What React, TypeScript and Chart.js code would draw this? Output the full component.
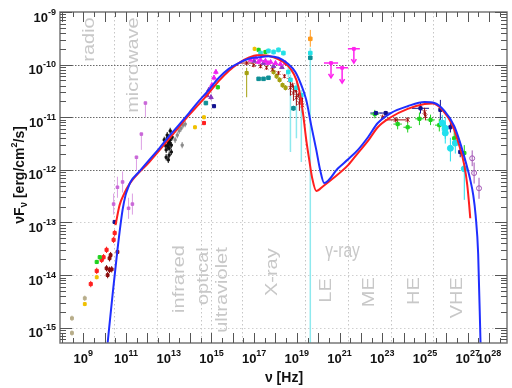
import React, { useEffect, useRef } from "react";
import { Chart, registerables } from "chart.js";
Chart.register(...registerables);

// ---------- axis ranges (log10) ----------
const X_MIN_LOG = 7.91;
const X_MAX_LOG = 28.84;
const Y_MIN_LOG = -15.29;
const Y_MAX_LOG = -9;

const xTickLabels = [9, 11, 13, 15, 17, 19, 21, 23, 25, 27, 28];
const yTickLabels = [-9, -10, -11, -12, -13, -14, -15];
const bandEdgesLog = [10.45, 12.47, 14.49, 14.98, 16.42, 19.39, 21.39, 23.39, 25.39];

const bandNames = ["radio", "microwave", "infrared", "optical", "ultraviolet", "X-ray", "LE", "ME", "HE", "VHE"];
const bandNu = [9.3, 11.35, 13.53, 14.65, 15.53, 17.86, 20.37, 22.42, 24.51, 26.51];
const bandTopF = [-9.1, -9.1, -13.43, -13.47, -13.47, -13.49, -14.06, -14.04, -14.04, -14.04];

// ---------- model curves (log10 nu, log10 nuFnu) ----------
const blueNu = [10.14, 10.37, 10.6, 10.84, 10.98, 11.07, 11.21, 11.63, 12.09, 12.56, 13.02, 13.49, 13.95, 14.42, 14.88, 15.35, 15.81, 16.28, 16.74, 17.21, 17.67, 18.14, 18.6, 18.93, 19.21, 19.44, 19.67, 19.91, 20.09, 20.28, 20.93, 21.4, 21.86, 22.33, 22.79, 23.4, 24.19, 24.98, 25.44, 25.91, 26.37, 26.65, 26.88, 27.12, 27.26, 27.37, 27.49, 27.6];
const blueF = [-15.29, -14.38, -13.52, -12.76, -12.48, -12.37, -12.23, -12.03, -11.81, -11.59, -11.36, -11.14, -10.92, -10.69, -10.48, -10.25, -10.08, -9.97, -9.89, -9.86, -9.84, -9.87, -9.99, -10.14, -10.39, -10.67, -11.15, -11.62, -12.0, -12.25, -11.97, -11.8, -11.62, -11.38, -11.11, -10.92, -10.79, -10.71, -10.73, -10.88, -11.17, -11.49, -11.81, -12.19, -12.48, -12.86, -13.6, -15.29];

const redNu = [10.51, 10.7, 10.93, 11.16, 12.09, 13.02, 13.95, 14.42, 14.88, 15.35, 15.81, 16.28, 16.74, 17.12, 17.44, 17.91, 18.37, 18.74, 18.98, 19.16, 19.3, 19.44, 19.58, 19.72, 19.91, 20.23, 20.7, 21.4, 21.86, 22.33, 22.79, 23.4, 24.19, 24.98, 25.35, 25.81, 26.28, 26.6, 26.84, 26.98, 27.07, 27.12];
const redF = [-13.05, -12.67, -12.44, -12.27, -11.85, -11.41, -10.96, -10.75, -10.54, -10.31, -10.12, -9.97, -9.87, -9.82, -9.82, -9.86, -9.95, -10.1, -10.29, -10.58, -10.96, -11.43, -11.81, -12.16, -12.4, -12.31, -12.16, -11.91, -11.68, -11.45, -11.19, -11.0, -10.84, -10.75, -10.74, -10.86, -11.15, -11.53, -11.91, -12.29, -12.67, -12.92];

// ---------- measurements (log10 nu, log10 nuFnu, error in decades) ----------
const tanNu = [8.47, 8.47, 9.07];
const tanF = [-14.82, -15.1, -14.44];

const goldNu = [9.07, 9.63, 14.23, 14.65, 17.02];
const goldF = [-14.55, -14.04, -11.19, -11.0, -9.7];

const redPtNu = [9.35, 9.63, 9.86, 9.95, 10.09, 10.42, 10.47, 14.65];
const redPtF = [-14.17, -13.92, -13.71, -13.66, -13.52, -13.33, -13.2, -11.11];

const maroonNu = [10.09, 10.23, 10.33, 10.14, 10.23, 10.28, 10.6];
const maroonF = [-13.87, -13.9, -13.89, -14.0, -13.68, -13.62, -13.56];

const greenNu = [9.63, 9.77, 15.3, 17.21, 17.53, 22.65, 23.72, 24.19, 24.74, 25.26, 25.67, 26.37, 26.84];
const greenF = [-13.75, -13.66, -10.43, -9.72, -9.76, -10.94, -11.13, -11.19, -11.03, -11.05, -11.15, -11.4, -11.68];
const greenErr = [0.04, 0.04, 0.04, 0.04, 0.04, 0.08, 0.1, 0.1, 0.12, 0.1, 0.12, 0.15, 0.15];
const greenXErr = [0, 0, 0, 0, 0, 0.2, 0.2, 0.2, 0.2, 0.2, 0.2, 0.1, 0.1];

const navyNu = [10.47, 15.12, 22.7, 23.16, 24.79, 25.72, 26.19, 26.65];
const navyF = [-12.99, -10.79, -10.92, -10.92, -10.83, -10.86, -11.19, -11.66];
const navyErr = [0.03, 0.03, 0.04, 0.04, 0.1, 0.19, 0.1, 0.1];
const navyXErr = [0, 0, 0.26, 0.24, 0.4, 0, 0, 0];

const violetNu = [10.42, 10.6, 10.84, 11.12, 11.3, 11.49, 11.72, 11.91];
const violetF = [-12.65, -12.33, -12.23, -12.73, -12.65, -11.76, -11.32, -10.73];
const violetLo = [0.2, 0.2, 0.2, 0.2, 0.2, 0.25, 0.3, 0.27];
const violetHi = [0.2, 0.2, 0.2, 0.2, 0.2, 0, 0, 0];

const blackNu = [12.79, 12.84, 12.88, 12.93, 12.98, 13.02, 13.02, 13.07, 13.12, 13.12, 12.98, 12.88, 13.16, 12.93, 13.07, 12.95, 13.0, 13.05];
const blackF = [-11.43, -11.53, -11.62, -11.4, -11.49, -11.59, -11.72, -11.43, -11.53, -11.66, -11.81, -11.76, -11.38, -11.34, -11.26, -11.55, -11.45, -11.5];

const grayNu = [13.3, 13.4, 13.49, 13.58, 13.67, 13.77, 13.63];
const grayF = [-11.43, -11.34, -11.26, -11.21, -11.15, -11.13, -11.53];

const magNu = [15.21, 15.02, 15.12, 16.84, 17.07, 17.3, 17.53, 17.77, 18.0, 18.23, 18.47, 17.2, 17.65];
const magF = [-10.14, -10.39, -10.25, -9.91, -9.87, -9.91, -9.93, -9.95, -9.97, -9.99, -9.97, -9.95, -9.97];

const purpNu = [14.79, 14.98, 14.88, 17.44, 17.91, 17.0, 18.3];
const purpF = [-10.58, -10.62, -10.48, -9.97, -10.03, -9.93, -10.05];

const tealNu = [14.74, 17.21, 17.44, 17.67, 18.84, 19.63];
const tealF = [-10.73, -10.27, -10.27, -10.25, -10.83, -9.87];

const cyanNu = [17.3, 17.67, 17.91, 18.14, 18.37, 18.6, 18.7, 18.98, 19.21, 19.63];
const cyanF = [-9.78, -9.74, -9.76, -9.72, -9.78, -10.14, -10.29, -10.44, -10.58, -9.78];
const cyanLo = [0.05, 0.05, 0.05, 0.05, 0.05, 0.1, 1.37, 0.96, 1.27, 7];
const cyanHi = [0.05, 0.05, 0.05, 0.05, 0.05, 0.1, 0.1, 0.1, 0.1, 0.1];

const cyanGNu = [25.81, 25.95, 25.95, 26.42, 26.19, 26.84];
const cyanGF = [-11.11, -11.21, -11.3, -11.49, -11.59, -11.98];
const cyanGLo = [0.15, 0.2, 0.2, 0.2, 0.25, 0.59];
const cyanGHi = [0.15, 0.2, 0.2, 0.2, 0.2, 0.1];

const oliveNu = [16.65, 17.91, 18.05, 18.19, 18.33, 18.47];
const oliveF = [-10.16, -10.14, -10.22, -10.29, -10.39, -10.44];
const oliveLo = [0.46, 0.05, 0.05, 0.05, 0.05, 0.05];
const oliveHi = [0.1, 0.05, 0.05, 0.05, 0.05, 0.05];

const dredNu = [16.65, 16.98, 17.3, 17.58, 17.86, 18.14, 18.42, 18.65, 18.79, 18.93, 19.07, 19.21, 18.7, 18.84, 18.98, 19.12, 19.26, 23.02, 23.63, 24.19, 24.98, 25.02];
const dredF = [-9.97, -10.01, -10.03, -10.06, -10.1, -10.16, -10.22, -10.29, -10.39, -10.48, -10.58, -10.67, -10.44, -10.54, -10.63, -10.73, -10.77, -11.0, -11.05, -11.05, -10.9, -10.98];
const dredErr = [0.04, 0.04, 0.04, 0.04, 0.04, 0.04, 0.04, 0.05, 0.05, 0.05, 0.05, 0.05, 0.15, 0.15, 0.15, 0.15, 0.15, 0.05, 0.05, 0.05, 0.08, 0.08];
const dredXErr = [0.3, 0, 0, 0, 0, 0, 0, 0, 0, 0, 0, 0, 0, 0, 0, 0, 0, 0, 0.5, 0, 0, 0];

const orangeNu = [19.63];
const orangeF = [-9.51];
const orangeLo = [0.15];
const orangeHi = [0.17];

const vheNu = [27.21, 27.3, 27.53];
const vheF = [-11.78, -12.06, -12.35];
const vheErr = [0.15, 0.2, 0.2];

const ulNu = [20.6, 21.12, 21.67];
const ulF = [-9.97, -10.06, -9.7];
const ulXErr = [0.33, 0.28, 0.28];
const ulDrop = [0.28, 0.29, 0.27];

// ---------- helpers ----------
type P = { x: number; y: number; yl: number; yh: number; xl: number; xh: number };
function mk(nu: number[], f: number[], lo?: number[], hi?: number[], xe?: number[]): P[] {
  return nu.map((n, i) => {
    const l = lo ? lo[i] : 0;
    const h = hi ? hi[i] : lo ? lo[i] : 0;
    const xw = xe ? xe[i] : 0;
    return {
      x: Math.pow(10, n),
      y: Math.pow(10, f[i]),
      yl: Math.pow(10, f[i] - l),
      yh: Math.pow(10, f[i] + h),
      xl: Math.pow(10, n - xw),
      xh: Math.pow(10, n + xw),
    };
  });
}
function curve(nu: number[], f: number[]) {
  return nu.map((n, i) => ({ x: Math.pow(10, n), y: Math.pow(10, f[i]) }));
}

const FONT = "'Liberation Sans', Arial, Helvetica, sans-serif";

const sedPlugin = {
  id: "sedDecor",
  beforeDatasetsDraw(chart: any) {
    const { ctx, chartArea: a, scales } = chart;
    const xs = scales.x;
    const ys = scales.y;
    ctx.save();
    ctx.beginPath();
    ctx.rect(a.left, a.top, a.right - a.left, a.bottom - a.top);
    ctx.clip();
    // vertical band boundaries
    ctx.lineWidth = 1;
    ctx.setLineDash([1.5, 2.5]);
    ctx.strokeStyle = "#c6c6c6";
    for (const b of bandEdgesLog) {
      const px = Math.round(xs.getPixelForValue(Math.pow(10, b))) + 0.5;
      ctx.beginPath();
      ctx.moveTo(px, a.top);
      ctx.lineTo(px, a.bottom);
      ctx.stroke();
    }
    // horizontal decades
    for (let d = -15; d <= -10; d++) {
      const py = Math.round(ys.getPixelForValue(Math.pow(10, d))) + 0.5;
      ctx.strokeStyle = d >= -12 ? "#6a6a6a" : "#cfcfcf";
      ctx.lineWidth = d >= -12 ? 1.2 : 1;
      ctx.setLineDash(d >= -12 ? [1.5, 1.5] : [1.5, 2.5]);
      ctx.beginPath();
      ctx.moveTo(a.left, py);
      ctx.lineTo(a.right, py);
      ctx.stroke();
    }
    ctx.setLineDash([]);
    // band labels
    ctx.fillStyle = "#c8c8c8";
    ctx.font = `20px ${FONT}`;
    bandNames.forEach((t, i) => {
      const px = xs.getPixelForValue(Math.pow(10, bandNu[i]));
      const py = ys.getPixelForValue(Math.pow(10, bandTopF[i]));
      ctx.save();
      ctx.translate(px, py);
      ctx.scale(0.8, 1);
      ctx.rotate(-Math.PI / 2);
      ctx.textAlign = "right";
      ctx.textBaseline = "middle";
      ctx.fillText(t, 0, 0);
      ctx.restore();
    });
    {
      const px = xs.getPixelForValue(Math.pow(10, 20.33));
      const py = ys.getPixelForValue(Math.pow(10, -13.56));
      ctx.save();
      ctx.translate(px, py);
      ctx.scale(0.78, 1);
      ctx.textAlign = "left";
      ctx.textBaseline = "middle";
      ctx.fillText("\u03b3-ray", 0, 0);
      ctx.restore();
    }
    // error bars
    chart.data.datasets.forEach((ds: any) => {
      if (!ds.bars) return;
      ctx.strokeStyle = ds.barColor || ds.borderColor;
      ctx.lineWidth = ds.barWidth || 1;
      for (const p of ds.data as P[]) {
        const px = xs.getPixelForValue(p.x);
        const py = ys.getPixelForValue(p.y);
        ctx.beginPath();
        if (p.yl !== p.y || p.yh !== p.y) {
          const y1 = ys.getPixelForValue(p.yl);
          const y2 = ys.getPixelForValue(p.yh);
          ctx.moveTo(px, y1);
          ctx.lineTo(px, y2);
        }
        if (p.xl !== p.x) {
          ctx.moveTo(xs.getPixelForValue(p.xl), py);
          ctx.lineTo(xs.getPixelForValue(p.xh), py);
        }
        ctx.stroke();
        if (ds.arrow) {
          const y1 = ys.getPixelForValue(p.yl);
          ctx.beginPath();
          ctx.moveTo(px - 2.5, y1 - 4);
          ctx.lineTo(px, y1);
          ctx.lineTo(px + 2.5, y1 - 4);
          ctx.stroke();
        }
      }
    });
    ctx.restore();
  },
  afterDraw(chart: any) {
    const { ctx, chartArea: a, scales } = chart;
    const xs = scales.x;
    const ys = scales.y;
    ctx.save();
    // frame
    ctx.strokeStyle = "#777";
    ctx.lineWidth = 1.5;
    ctx.strokeRect(a.left, a.top, a.right - a.left, a.bottom - a.top);
    // ticks
    ctx.strokeStyle = "#555";
    ctx.lineWidth = 1;
    for (let d = 8; d <= 29; d++) {
      for (const [off, len] of [[0, 10], [0.5, 5]] as [number, number][]) {
        const v = d + off;
        if (v < X_MIN_LOG || v > X_MAX_LOG) continue;
        const px = Math.round(xs.getPixelForValue(Math.pow(10, v))) + 0.5;
        ctx.beginPath();
        ctx.moveTo(px, a.bottom);
        ctx.lineTo(px, a.bottom - len);
        ctx.moveTo(px, a.top);
        ctx.lineTo(px, a.top + len);
        ctx.stroke();
      }
    }
    for (let d = -16; d <= -9; d++) {
      for (let m = 1; m <= 9; m++) {
        const v = m * Math.pow(10, d);
        const lv = Math.log10(v);
        if (lv < Y_MIN_LOG - 1e-6 || lv > Y_MAX_LOG + 1e-6) continue;
        const py = Math.round(ys.getPixelForValue(v)) + 0.5;
        const len = m === 1 ? 12 : 6;
        ctx.beginPath();
        ctx.moveTo(a.left, py);
        ctx.lineTo(a.left + len, py);
        ctx.moveTo(a.right, py);
        ctx.lineTo(a.right - len, py);
        ctx.stroke();
      }
    }
    // tick labels
    ctx.fillStyle = "#111";
    ctx.textBaseline = "alphabetic";
    ctx.textAlign = "left";
    const big = `bold 13px ${FONT}`;
    const small = `bold 9px ${FONT}`;
    for (const d of xTickLabels) {
      const px = xs.getPixelForValue(Math.pow(10, d));
      ctx.font = big;
      const w1 = ctx.measureText("10").width;
      ctx.font = small;
      const w2 = ctx.measureText(String(d)).width;
      const s = px - (w1 + w2) / 2;
      ctx.font = big;
      ctx.fillText("10", s, 363);
      ctx.font = small;
      ctx.fillText(String(d), s + w1, 356);
    }
    for (const d of yTickLabels) {
      const py = ys.getPixelForValue(Math.pow(10, d));
      ctx.font = big;
      const w1 = ctx.measureText("10").width;
      ctx.font = small;
      const w2 = ctx.measureText(String(d)).width;
      const s = 56 - (w1 + w2);
      ctx.font = big;
      ctx.fillText("10", s, py + 9.5);
      ctx.font = small;
      ctx.fillText(String(d), s + w1, py + 2.5);
    }
    // x title
    ctx.font = `bold 14px ${FONT}`;
    ctx.textAlign = "center";
    ctx.fillText("\u03bd [Hz]", 284, 382);
    // y title (rotated)
    ctx.save();
    ctx.translate(20, 175);
    ctx.rotate(-Math.PI / 2);
    ctx.textAlign = "left";
    ctx.textBaseline = "middle";
    const parts: [string, string, number][] = [
      ["\u03bdF", `bold 14px ${FONT}`, 0],
      ["\u03bd", `bold 10px ${FONT}`, 4],
      [" [erg/cm", `bold 14px ${FONT}`, 0],
      ["2", `bold 9px ${FONT}`, -5],
      ["/s]", `bold 14px ${FONT}`, 0],
    ];
    let tot = 0;
    for (const [t, f] of parts) {
      ctx.font = f;
      tot += ctx.measureText(t).width;
    }
    let cx = -tot / 2;
    for (const [t, f, dy] of parts) {
      ctx.font = f;
      ctx.fillText(t, cx, dy);
      cx += ctx.measureText(t).width;
    }
    ctx.restore();
    ctx.restore();
  },
};

function pts(data: P[], color: string, style: string, r: number, opts: any = {}) {
  return {
    data,
    showLine: false,
    pointStyle: style,
    pointRadius: r,
    pointBackgroundColor: opts.hollow ? "rgba(0,0,0,0)" : color,
    pointBorderColor: color,
    pointBorderWidth: 1,
    borderColor: color,
    backgroundColor: color,
    bars: true,
    barColor: opts.barColor || color,
    barWidth: opts.barWidth || 1,
    arrow: !!opts.arrow,
    clip: 0,
  };
}

export default function App() {
  const ref = useRef<HTMLCanvasElement | null>(null);
  useEffect(() => {
    if (!ref.current) return;
    const datasets: any[] = [
      {
        data: curve(blueNu, blueF),
        showLine: true,
        borderColor: "#1f2eff",
        borderWidth: 2,
        pointRadius: 0,
        cubicInterpolationMode: "monotone",
        clip: 0,
      },
      {
        data: curve(redNu, redF),
        showLine: true,
        borderColor: "#ff1f1f",
        borderWidth: 2,
        pointRadius: 0,
        cubicInterpolationMode: "monotone",
        clip: 0,
      },
      pts(mk(orangeNu, orangeF, orangeLo, orangeHi), "#ff9a1e", "rect", 2.5),
      pts(mk(cyanNu, cyanF, cyanLo, cyanHi), "#22e0e6", "rect", 2.5, { barColor: "#8ee9ee", barWidth: 1.5 }),
      pts(mk(cyanGNu, cyanGF, cyanGLo, cyanGHi), "#22e0ee", "circle", 3),
      pts(mk(tealNu, tealF, [0.04, 0.03, 0.03, 0.03, 0.05, 0.03]), "#0e8f95", "rect", 2.5),
      pts(mk(navyNu, navyF, navyErr, navyErr, navyXErr), "#10108f", "rect", 2.2),
      pts(mk(greenNu, greenF, greenErr, greenErr, greenXErr), "#1ed21e", "rect", 2.2),
      pts(mk(magNu, magF, [0.05, 0.05, 0.05, 0.03, 0.03, 0.03, 0.03, 0.03, 0.03, 0.03, 0.03, 0.03, 0.03]), "#f020f0", "triangle", 2.6),
      pts(mk(purpNu, purpF, [0.05, 0.05, 0.05, 0.03, 0.03, 0.03, 0.03]), "#8a38c0", "triangle", 2.6),
      pts(mk(dredNu, dredF, dredErr, dredErr, dredXErr), "#a00c0c", "crossRot", 2.6, { barWidth: 1 }),
      pts(mk(oliveNu, oliveF, oliveLo, oliveHi), "#a5a010", "rect", 2.2),
      pts(mk(goldNu, goldF, [0.04, 0.04, 0.04, 0.04, 0.04]), "#f0c000", "rect", 2),
      pts(mk(redPtNu, redPtF, [0.06, 0.06, 0.06, 0.06, 0.06, 0.06, 0.06, 0.04]), "#ff2020", "rect", 2.2),
      pts(mk(maroonNu, maroonF, [0.06, 0.06, 0.06, 0.06, 0.06, 0.06, 0.06]), "#8b0a0a", "rect", 2),
      pts(mk(tanNu, tanF, [0.05, 0.05, 0.05]), "#b8ad8a", "rect", 2),
      pts(mk(violetNu, violetF, violetLo, violetHi), "#c966d8", "rect", 1.8, { barColor: "#dc9ee4" }),
      pts(mk(vheNu, vheF, vheErr), "#a255b5", "circle", 2.5, { hollow: true }),
      pts(mk(ulNu, ulF, ulDrop, [0, 0, 0], ulXErr), "#ff22ee", "rect", 2, { arrow: true, barWidth: 1.5 }),
      pts(mk(blackNu, blackF, blackF.map(() => 0.06)), "#111111", "rect", 1.5),
      pts(mk(grayNu, grayF, grayF.map(() => 0.06)), "#8a8a8a", "rect", 1.5),
    ];
    const chart = new Chart(ref.current, {
      type: "scatter",
      data: { datasets },
      options: {
        animation: false,
        responsive: false,
        maintainAspectRatio: false,
        layout: { padding: { left: 60, right: 2, top: 12, bottom: 45 } },
        plugins: { legend: { display: false }, tooltip: { enabled: false } },
        scales: {
          x: { type: "logarithmic", min: Math.pow(10, X_MIN_LOG), max: Math.pow(10, X_MAX_LOG), display: false },
          y: { type: "logarithmic", min: Math.pow(10, Y_MIN_LOG), max: Math.pow(10, Y_MAX_LOG), display: false },
        },
      },
      plugins: [sedPlugin as any],
    });
    return () => chart.destroy();
  }, []);
  return (
    <div style={{ position: "absolute", left: 0, top: 0, width: 512, height: 388, background: "#fff" }}>
      <canvas ref={ref} width={512} height={388} style={{ display: "block" }} />
    </div>
  );
}
